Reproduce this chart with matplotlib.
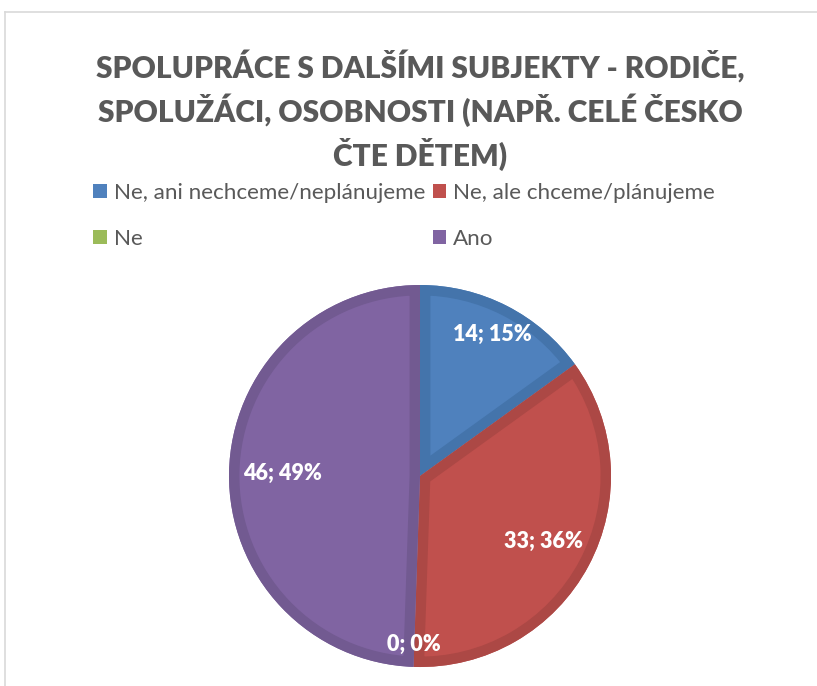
import matplotlib
matplotlib.use("Agg")
import matplotlib.pyplot as plt
import numpy as np
from matplotlib.lines import Line2D
from matplotlib.patches import Rectangle, Wedge

plt.rcParams["font.family"] = ["Lato", "DejaVu Sans"]

TITLE = "SPOLUPRÁCE S DALŠÍMI SUBJEKTY - RODIČE,\nSPOLUŽÁCI, OSOBNOSTI (NAPŘ. CELÉ ČESKO\nČTE DĚTEM)"
categories = ["Ne, ani nechceme/neplánujeme", "Ne, ale chceme/plánujeme", "Ne", "Ano"]
counts = [14, 33, 0, 46]
percents = [15, 36, 0, 49]  # as printed on the chart

FILL = ["#4F81BD", "#C0504D", "#9BBB59", "#8064A2"]
EDGE = ["#4474AB", "#AC4845", "#8BA850", "#725A91"]
INK = "#595959"

W, H = 817, 686
fig = plt.figure(figsize=(W / 100, H / 100), dpi=100)

# chart frame (only top and left edges visible in the crop)
fig.add_artist(Line2D([5 / W, 1], [1 - 12 / H, 1 - 12 / H], color="#D9D9D9", lw=1.2))
fig.add_artist(Line2D([5 / W, 5 / W], [0, 1 - 12 / H], color="#D9D9D9", lw=1.2))

fig.text(420 / W, 1 - 110 / H, TITLE, ha="center", va="center", fontsize=21.5,
         fontweight="heavy", color=INK, linespacing=1.38)

# pie
cx, cy, r = 420, 476, 191
ax = fig.add_axes([(cx - r) / W, (H - cy - r) / H, 2 * r / W, 2 * r / H])
wedges, _ = ax.pie(counts, colors=FILL, startangle=90, counterclock=False, radius=1.0,
                   wedgeprops=dict(linewidth=0))
ax.set_xlim(-1, 1)
ax.set_ylim(-1, 1)
ax.set_aspect("equal")
ax.axis("off")

# darker inner band along each slice outline (stroke clipped to the slice)
for w, ec in zip(wedges, EDGE):
    if w.theta2 - w.theta1 <= 0:
        continue
    band = Wedge(w.center, w.r, w.theta1, w.theta2, facecolor="none", edgecolor=ec,
                 linewidth=15, joinstyle="miter")
    ax.add_patch(band)
    band.set_clip_path(w)

label_r = [0.83, 0.73, 0.88, 0.72]
for w, n, p, lr in zip(wedges, counts, percents, label_r):
    ang = np.deg2rad((w.theta1 + w.theta2) / 2)
    ax.text(lr * np.cos(ang), lr * np.sin(ang), f"{n}; {p}%", ha="center", va="center",
            color="white", fontsize=15.5, fontweight="heavy")

# legend fills row by row like Excel: reorder for matplotlib's column-major fill
order = [0, 2, 1, 3]
handles = [Rectangle((0, 0), 1, 1, facecolor=FILL[i], edgecolor="none") for i in order]
labels = [categories[i] for i in order]
fig.legend(handles, labels, ncol=2, loc="center", bbox_to_anchor=(404 / W, 1 - 216 / H),
           frameon=False, fontsize=16.1, labelcolor=INK, handlelength=0.6, handleheight=0.6,
           handletextpad=0.3, columnspacing=0.35, labelspacing=1.15)

fig.savefig("out.png", dpi=100)
